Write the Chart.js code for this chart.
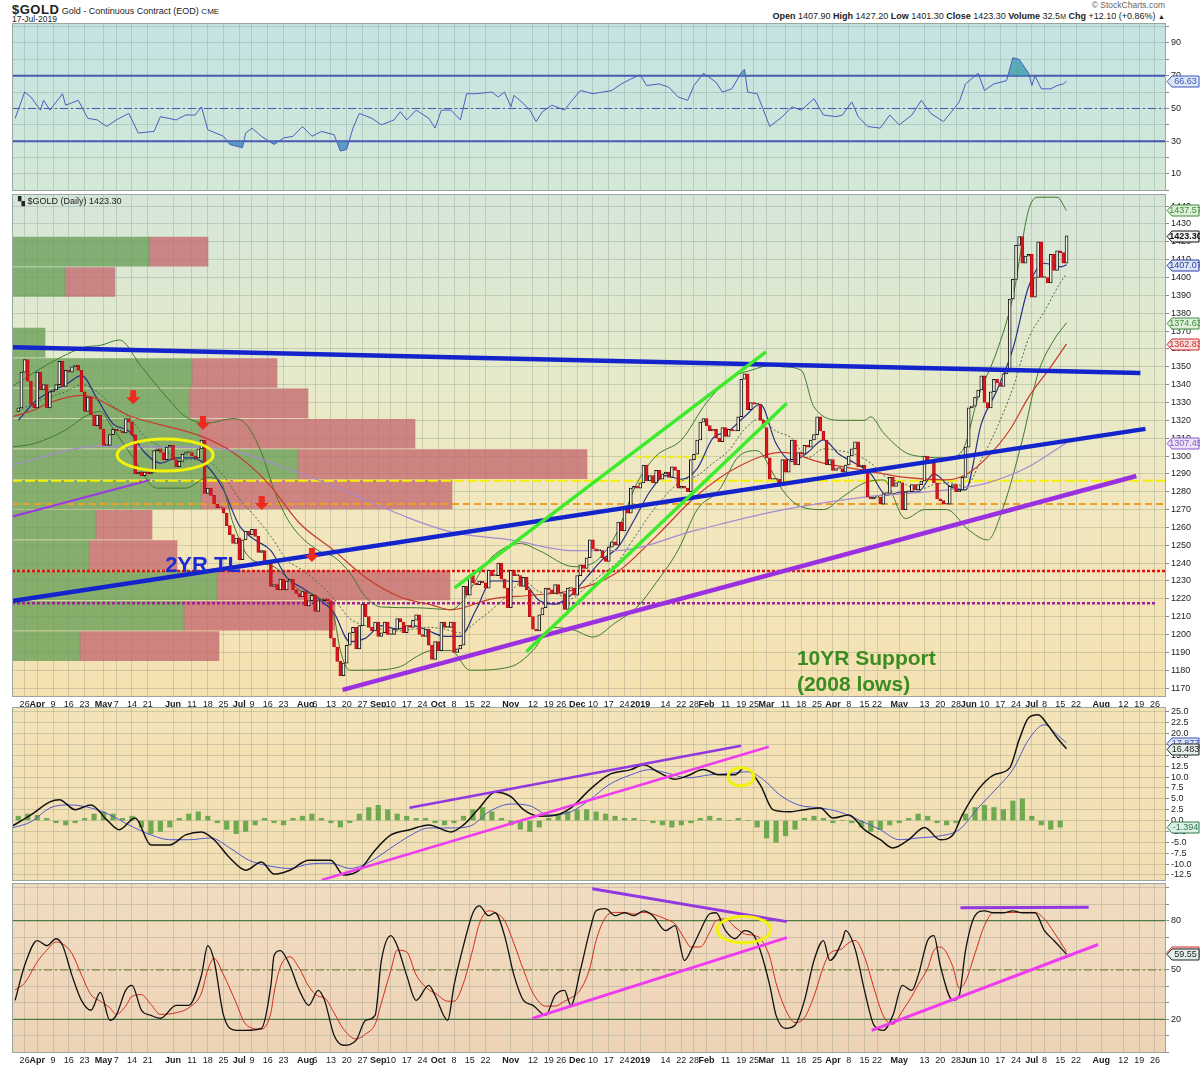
<!DOCTYPE html>
<html>
<head>
<meta charset="utf-8">
<script src="https://cdn.jsdelivr.net/npm/chart.js@4.4.1/dist/chart.umd.min.js"></script>
<style>
  body { margin: 0; width: 1200px; height: 1070px; position: relative; overflow: hidden; background: #fff;
         font-family: "Liberation Sans", Arial, sans-serif; color: #222; }
  canvas { position: absolute; left: 0; }
  .t { position: absolute; white-space: nowrap; }
</style>
</head>
<body>
<div class="t" style="left:12px;top:2px;font-size:9px"><b style="font-size:13px;letter-spacing:.5px">$GOLD</b> Gold - Continuous Contract (EOD) <span style="font-size:8px">CME</span></div>
<div class="t" style="left:12px;top:14px;font-size:8.5px">17-Jul-2019</div>
<div class="t" style="right:35px;top:0px;font-size:8.5px;color:#666">© StockCharts.com</div>
<div class="t" style="right:35px;top:11px;font-size:9px"><b>Open</b> 1407.90 <b>High</b> 1427.20 <b>Low</b> 1401.30 <b>Close</b> 1423.30 <b>Volume</b> 32.5<span style="font-size:7px">M</span> <b>Chg</b> +12.10 (+0.86%) <span style="font-size:7px">▲</span></div>

<canvas id="rsi" width="1200" height="172" style="top:21px"></canvas>
<canvas id="price" width="1200" height="518" style="top:192px"></canvas>
<canvas id="macd" width="1200" height="178" style="top:705px"></canvas>
<canvas id="stoch" width="1200" height="189" style="top:881px"></canvas>
<div class="t" style="left:18px;top:196px;font-size:9px">▚ $GOLD (Daily) 1423.30</div>

<script>
// ---- data ----

const START_DATE = '2018-03-22';
const HOLIDAYS = ['2018-03-30', '2018-05-28', '2018-07-04', '2018-09-03', '2018-11-22', '2018-12-25',
  '2019-01-01', '2019-01-21', '2019-02-18', '2019-04-19', '2019-05-27', '2019-07-04'];

// week ticks on the date axis: [date, label]
const xTicks = [
  ['2018-03-26', '26'], ['2018-04-02', 'Apr'], ['2018-04-09', '9'], ['2018-04-16', '16'], ['2018-04-23', '23'],
  ['2018-05-01', 'May'], ['2018-05-07', '7'], ['2018-05-14', '14'], ['2018-05-21', '21'],
  ['2018-06-01', 'Jun'], ['2018-06-11', '11'], ['2018-06-18', '18'], ['2018-06-25', '25'],
  ['2018-07-02', 'Jul'], ['2018-07-09', '9'], ['2018-07-16', '16'], ['2018-07-23', '23'],
  ['2018-08-01', 'Aug'], ['2018-08-06', '6'], ['2018-08-13', '13'], ['2018-08-20', '20'], ['2018-08-27', '27'],
  ['2018-09-04', 'Sep'], ['2018-09-10', '10'], ['2018-09-17', '17'], ['2018-09-24', '24'],
  ['2018-10-01', 'Oct'], ['2018-10-08', '8'], ['2018-10-15', '15'], ['2018-10-22', '22'],
  ['2018-11-01', 'Nov'], ['2018-11-12', '12'], ['2018-11-19', '19'], ['2018-11-26', '26'],
  ['2018-12-03', 'Dec'], ['2018-12-10', '10'], ['2018-12-17', '17'], ['2018-12-24', '24'],
  ['2019-01-02', '2019'], ['2019-01-14', '14'], ['2019-01-22', '22'], ['2019-01-28', '28'],
  ['2019-02-01', 'Feb'], ['2019-02-11', '11'], ['2019-02-19', '19'], ['2019-02-25', '25'],
  ['2019-03-01', 'Mar'], ['2019-03-11', '11'], ['2019-03-18', '18'], ['2019-03-25', '25'],
  ['2019-04-01', 'Apr'], ['2019-04-08', '8'], ['2019-04-15', '15'], ['2019-04-22', '22'],
  ['2019-05-01', 'May'], ['2019-05-13', '13'], ['2019-05-20', '20'], ['2019-05-28', '28'],
  ['2019-06-03', 'Jun'], ['2019-06-10', '10'], ['2019-06-17', '17'], ['2019-06-24', '24'],
  ['2019-07-01', 'Jul'], ['2019-07-08', '8'], ['2019-07-15', '15'], ['2019-07-22', '22'],
  ['2019-08-01', 'Aug'], ['2019-08-12', '12'], ['2019-08-19', '19'], ['2019-08-26', '26'],
];
const MONTH_LABELS = ['Apr', 'May', 'Jun', 'Jul', 'Aug', 'Sep', 'Oct', 'Nov', 'Dec', '2019', 'Feb', 'Mar'];

// daily closes, 22-Mar-2018 .. 17-Jul-2019
const FIRST_OPEN = 1325;
const closes = [
  1327, 1347, 1354, 1342, 1329, 1327,
  1347, 1337, 1340, 1327, 1336, 1337, 1340, 1353, 1339, 1348, 1347, 1350, 1351, 1348, 1336, 1325, 1333, 1323, 1317, 1323, 1315,
  1306, 1306, 1312, 1315, 1314, 1314, 1313, 1321, 1319, 1312, 1290, 1291, 1289, 1291, 1290, 1291, 1303, 1304, 1302, 1298, 1305, 1306,
  1298, 1294, 1297, 1301, 1302, 1302, 1300, 1299, 1304, 1309, 1279, 1282, 1278, 1273, 1271, 1271, 1268, 1261, 1256, 1251, 1254,
  1242, 1253, 1258, 1256, 1259, 1255, 1246, 1247, 1241, 1240, 1227, 1228, 1225, 1231, 1225, 1230, 1231, 1225, 1223, 1221, 1224,
  1216, 1219, 1222, 1213, 1219, 1219, 1220, 1219, 1198, 1193, 1185, 1177, 1184, 1194, 1201, 1204, 1192, 1205, 1217, 1210, 1204, 1202, 1207,
  1199, 1201, 1207, 1200, 1200, 1203, 1209, 1207, 1201, 1205, 1204, 1208, 1211, 1200, 1199, 1203, 1194, 1186, 1196,
  1191, 1207, 1204, 1204, 1207, 1190, 1192, 1194, 1227, 1222, 1233, 1229, 1228, 1230, 1229, 1226, 1236, 1233, 1233, 1240, 1231, 1226, 1215,
  1236, 1233, 1233, 1227, 1232, 1225, 1210, 1203, 1202, 1211, 1215, 1226, 1225, 1223, 1228, 1223, 1223, 1214, 1226, 1226, 1222,
  1233, 1239, 1237, 1243, 1253, 1248, 1247, 1247, 1243, 1241, 1249, 1252, 1250, 1263, 1258, 1272, 1268, 1282, 1283, 1282,
  1285, 1295, 1286, 1289, 1285, 1292, 1287, 1290, 1291, 1288, 1294, 1292, 1282, 1283, 1282, 1280, 1298, 1301, 1309, 1319, 1321,
  1317, 1314, 1315, 1310, 1308, 1316, 1311, 1315, 1314, 1314, 1322, 1343, 1346, 1326, 1330, 1329, 1329, 1320, 1316,
  1299, 1287, 1287, 1287, 1285, 1298, 1291, 1298, 1309, 1295, 1302, 1301, 1306, 1305, 1309, 1312, 1322, 1314, 1309, 1295, 1298,
  1292, 1293, 1293, 1291, 1295, 1300, 1304, 1308, 1294, 1295, 1291, 1277, 1276, 1277, 1277, 1273, 1279, 1279, 1288, 1283, 1285,
  1285, 1270, 1280, 1280, 1284, 1281, 1284, 1286, 1300, 1296, 1297, 1285, 1276, 1275, 1273, 1273, 1283, 1284, 1280, 1281, 1288, 1305,
  1327, 1328, 1333, 1337, 1345, 1330, 1327, 1336, 1343, 1341, 1339, 1346, 1348, 1388, 1399, 1418, 1423, 1408, 1412, 1413,
  1389, 1400, 1420, 1400, 1400, 1397, 1413, 1404, 1415, 1414, 1408, 1423.3,
];

// overlays: [trading-day index, value]
const bbUpper = [[-2, 1339], [10, 1352], [21, 1361], [26, 1362], [32, 1365], [39, 1350], [47, 1333], [53, 1322], [60, 1318.5],
  [68, 1321], [72, 1318], [77, 1302], [81, 1281], [86, 1262.5], [95, 1247], [100, 1243.5], [105, 1234.5], [110, 1221],
  [115, 1215.4], [126, 1215], [137, 1214], [150, 1243.5], [159, 1251], [165, 1247], [176, 1238], [182, 1240], [189, 1255],
  [196, 1285], [202, 1300], [210, 1309], [218, 1330], [226, 1344], [232, 1348], [239, 1351], [242, 1350], [248, 1348],
  [252, 1327.5], [261, 1320], [268, 1320], [270, 1322], [274, 1313], [281, 1302], [287, 1299.5], [294, 1299], [299, 1303],
  [304, 1333], [310, 1359], [315, 1389], [320, 1438], [323, 1445], [329, 1445], [332, 1437.57]];
const bbLower = [[-2, 1305], [5, 1307], [15, 1314.6], [21, 1322], [26, 1325], [29, 1318], [36, 1300], [44, 1282], [53, 1282],
  [60, 1288], [64, 1286], [68, 1262.5], [73, 1243.5], [81, 1238], [89, 1225], [95, 1221], [100, 1210], [102, 1191], [105, 1180],
  [110, 1180], [121, 1182], [126, 1187.5], [131, 1191], [137, 1191], [143, 1180], [156, 1182], [163, 1191], [169, 1204],
  [176, 1202.5], [182, 1198.6], [189, 1206.5], [196, 1215.4], [202, 1229], [209, 1247.4], [215, 1270], [222, 1281],
  [228, 1299.5], [234, 1303], [239, 1290.5], [242, 1281], [248, 1271.5], [255, 1270], [261, 1277], [268, 1285], [274, 1286.6],
  [281, 1265], [287, 1270], [294, 1270], [301, 1258.6], [307, 1253], [312, 1271.5], [318, 1309], [323, 1346.5], [328, 1365],
  [332, 1374.63]];
const ma10 = [[0, 1320], [5, 1330], [10, 1336], [15, 1340], [20, 1345], [25, 1332], [30, 1318], [35, 1314], [40, 1302], [45, 1296],
  [50, 1299], [55, 1299], [60, 1294], [65, 1281], [70, 1261], [75, 1253], [80, 1247], [85, 1232], [90, 1226], [95, 1220],
  [100, 1212], [105, 1196], [110, 1198], [115, 1205], [120, 1203], [125, 1205], [130, 1202], [135, 1199], [140, 1199],
  [145, 1214], [150, 1230], [155, 1230], [160, 1229], [165, 1219], [170, 1217], [175, 1222], [180, 1232], [185, 1242],
  [190, 1249], [195, 1264], [200, 1280], [205, 1289], [210, 1287], [215, 1293], [220, 1310], [225, 1314], [230, 1322],
  [235, 1329], [240, 1307], [245, 1297], [250, 1302], [255, 1309], [260, 1301], [265, 1296], [270, 1290], [275, 1278],
  [280, 1280], [285, 1280], [290, 1290], [295, 1283], [300, 1281], [305, 1318], [310, 1337], [315, 1360], [320, 1395],
  [325, 1408], [330, 1406], [332, 1407.07]];
const ma20 = [[0, 1325], [5, 1330], [10, 1333], [15, 1336], [20, 1340], [25, 1336], [30, 1328], [35, 1322], [40, 1311], [45, 1305],
  [50, 1299], [55, 1298], [60, 1297], [65, 1289], [70, 1276], [75, 1266], [80, 1255], [85, 1242], [90, 1236], [95, 1229],
  [100, 1220], [105, 1209], [110, 1205], [115, 1203], [120, 1202], [125, 1203], [130, 1204], [135, 1203], [140, 1201],
  [145, 1207], [150, 1214], [155, 1222], [160, 1230], [165, 1224], [170, 1223], [175, 1220], [180, 1227], [185, 1234],
  [190, 1241], [195, 1254], [200, 1267], [205, 1278], [210, 1286], [215, 1289], [220, 1296], [225, 1303], [230, 1315],
  [235, 1321], [240, 1314], [245, 1310], [250, 1299], [255, 1304], [260, 1303], [265, 1301], [270, 1296], [275, 1288],
  [280, 1285], [285, 1281], [290, 1284], [295, 1285], [300, 1283], [305, 1298], [310, 1316], [315, 1338], [320, 1366],
  [325, 1381], [330, 1397], [332, 1402]];
const ma50 = [[-2, 1322], [5, 1325.8], [10, 1330], [20, 1334], [36, 1322], [58, 1311], [68, 1302], [79, 1285], [89, 1262.5],
  [100, 1247], [110, 1232], [121, 1221], [131, 1216.5], [137, 1213.8], [150, 1220], [163, 1222], [176, 1225], [189, 1234],
  [202, 1255], [215, 1278], [228, 1294], [242, 1302], [255, 1296], [268, 1292], [281, 1288], [294, 1286.6], [301, 1290.5],
  [307, 1299.5], [314, 1314.6], [320, 1333], [327, 1350], [332, 1362.83]];
const ma200 = [[-2, 1295], [26, 1305.6], [47, 1305], [62, 1304.5], [89, 1290.5], [137, 1257.5], [156, 1253], [176, 1247],
  [189, 1247], [215, 1258.6], [242, 1269.8], [268, 1277], [294, 1281], [307, 1285], [320, 1294], [332, 1307.45]];

// volume by price: zone mid prices, up / down volume (arbitrary units)
const vbpPrice = [1414.5, 1397.5, 1380.5, 1363.5, 1346.5, 1329.5, 1312.5, 1295.5, 1278.5, 1261.5, 1244.5, 1227.5, 1210.5, 1193.5];
const vbpUp = [137, 53, 0, 33, 180, 177, 188, 286, 189, 84, 77, 205, 172, 68];
const vbpDown = [59, 50, 0, 0, 85, 119, 215, 289, 251, 56, 88, 233, 151, 139];

// horizontal levels on price
const priceLevels = { yellow: 1286.2, orange: 1273.1, red: 1235.6, purple: 1217.5, yellowShort: 1299.5 };

// drawn trend lines: [[day, value], [day, value]]
const tlBlueTop = [[-2, 1361.0], [355.4, 1346.5]];
const tlBlueLow = [[-2, 1218.7], [357, 1315.2]];
const tlPurple = [[102.7, 1169], [354.1, 1288.8]];
const tlPurpleLeft = [[-2, 1266], [41.7, 1286.6]];
const tlGreenUp = [[138.2, 1226.1], [236.8, 1358.3]];
const tlGreenLow = [[160.9, 1190.4], [243.4, 1329.6]];

// RSI(14)
const rsi = [[-1, 44], [2, 60], [4, 57], [7, 49], [8, 55], [10, 49], [14, 59], [15, 52], [19, 55], [22, 44], [25, 43], [28, 39],
  [31, 43], [35, 47], [38, 35], [43, 36], [45, 45], [50, 43], [53, 46], [56, 46], [58, 51], [60, 37], [65, 33], [67, 28],
  [71, 26], [72, 35], [74, 38], [77, 33], [81, 28], [84, 32], [87, 33], [90, 39], [93, 33], [96, 36], [100, 34], [102, 24],
  [104, 25], [106, 38], [108, 47], [112, 44], [115, 40], [119, 43], [121, 48], [123, 43], [126, 49], [130, 44], [132, 38],
  [134, 49], [137, 49], [140, 43], [142, 59], [145, 59], [150, 60], [152, 57], [154, 60], [156, 51], [157, 58], [160, 53],
  [162, 49], [164, 42], [166, 48], [169, 52], [173, 49], [175, 54], [178, 61], [182, 59], [185, 60], [188, 61], [191, 65],
  [194, 68], [197, 70.5], [199, 64], [203, 65], [206, 63], [209, 57], [212, 55], [214, 64], [217, 71.5], [221, 66],
  [223, 60], [226, 62], [229, 72], [230, 74], [231, 60], [234, 59], [236, 49], [238, 39], [242, 45], [245, 51], [248, 49],
  [252, 56], [255, 46], [259, 45], [261, 46], [264, 54], [266, 45], [269, 39], [273, 38], [276, 46], [279, 40], [283, 46],
  [286, 55], [289, 47], [293, 42], [296, 49], [298, 54], [300, 65], [304, 71.5], [306, 61], [309, 65], [313, 67], [315, 81],
  [317, 80], [320, 71.5], [321, 64], [322, 70], [324, 62], [327, 62], [329, 64], [331, 65], [332, 66.63]];
const rsiLevels = [70, 50, 30];

// MACD(12,26,9)
const macdLine = [[-2, -1.3], [4, 1.3], [10, 4.3], [13, 4.8], [18, 2.5], [23, 3.6], [28, 0.2], [32, -2.1], [37, 0.6],
  [42, -5.6], [48, -5.6], [53, -3.3], [58, -2.6], [62, -4.4], [67, -8.6], [72, -11.4], [77, -9.5], [81, -12.3], [86, -11.4],
  [92, -9.1], [99, -9.1], [103, -12.5], [108, -11.4], [113, -6.8], [118, -3.3], [124, -2.1], [130, -1.0], [137, -2.6],
  [141, -1.0], [146, 2.9], [151, 6.5], [156, 5.5], [160, 2.5], [165, 1.0], [170, 1.2], [175, 2.9], [181, 7.1], [187, 10.5],
  [194, 11.7], [198, 12.8], [203, 11.0], [208, 9.5], [212, 10.3], [217, 11.7], [222, 10.5], [227, 10.5], [230, 12.1],
  [235, 8.2], [239, 2.5], [244, 2.0], [249, 2.5], [254, 2.9], [258, 0.6], [263, 1.3], [268, -2.1], [273, -4.4], [277, -6.3],
  [282, -4.4], [287, -1.6], [292, -4.4], [296, -3.3], [299, 1.3], [304, 7.1], [309, 10.5], [314, 12.1], [317, 18.6],
  [320, 23.6], [323, 24.3], [326, 22.0], [329, 19.0], [332, 16.48]];
const macdSignal = [[-2, -1.7], [4, -0.3], [10, 2.9], [16, 3.6], [23, 2.9], [29, 1.3], [35, -1.0], [42, -3.3], [48, -4.4],
  [54, -4.4], [61, -4.0], [67, -6.3], [73, -9.1], [80, -10.5], [86, -11.0], [92, -10.0], [99, -9.8], [105, -11.0],
  [111, -9.6], [118, -6.3], [124, -3.5], [130, -1.7], [137, -1.7], [143, -1.3], [149, 2.0], [156, 3.8], [162, 3.4],
  [168, 1.3], [175, 2.0], [181, 4.8], [187, 8.2], [194, 10.5], [200, 11.7], [206, 10.8], [212, 9.8], [219, 10.5],
  [225, 10.8], [231, 11.2], [236, 9.4], [241, 6.0], [247, 3.6], [254, 2.9], [260, 2.0], [266, 0.2], [273, -2.1],
  [279, -4.4], [285, -4.0], [292, -3.5], [298, -2.1], [304, 2.9], [310, 7.5], [315, 11.7], [320, 18.6], [325, 22.0],
  [329, 19.7], [332, 17.88]];
const HIST_STEP = 3; // histogram sampled every 3rd trading day
const macdHist = [1.0, 1.5, 1.2, 0.5, -0.5, -1.0, -0.5, 0.5, 1.5, 2.0, 1.5, 0.5, 1.0, -1.5, -3.0, -2.5, -1.5, 0.5, 1.5, 2.0,
  1.0, -0.5, -2.0, -3.0, -2.5, -1.0, 0.5, -0.5, -1.0, 0.5, 1.0, 1.5, 0.5, -0.5, -1.5, -0.5, 1.5, 3.0, 3.5, 2.5, 1.5, 1.0,
  0.5, 0.5, -0.5, -1.0, -0.5, 1.0, 2.5, 3.0, 2.0, 0.5, -1.0, -2.0, -2.5, -1.5, 0.5, 1.5, 2.0, 2.5, 2.5, 2.0, 1.5, 1.0, 0.5,
  0.5, 0.0, -0.5, -1.0, -1.5, -1.0, -0.5, 0.5, 1.0, 0.5, 0.0, 0.5, 0.0, -1.5, -4.0, -5.0, -3.5, -2.0, 0.5, 1.0, 0.5, -0.5,
  0.0, -0.5, -1.5, -2.5, -2.0, -1.0, -0.5, 0.5, 1.5, 1.0, -0.5, -1.0, -0.5, 1.5, 3.0, 3.5, 3.0, 2.5, 4.5, 5.0, 1.0, -1.0,
  -2.0, -1.5];
const tlMacdPurple = [[123.9, 2.92], [228.9, 17.18]];
const tlMacdMagenta = [[96.1, -13.65], [237.7, 16.95]];

// Slow stochastic %K / %D
const stochK = [[-1, 31.5], [2, 52.7], [6, 67.9], [9, 64.8], [12, 69], [14, 65], [17, 46.7], [20, 31.5], [23, 25.5], [26, 36.4],
  [29, 19.4], [31, 22.4], [34, 37.6], [36, 40.6], [39, 25.5], [42, 22.4], [45, 20.6], [50, 28.5], [54, 28.5], [58, 46.7],
  [60, 64.8], [62, 55.8], [65, 22.4], [69, 13.3], [72, 13.3], [77, 14.5], [80, 40.6], [81, 58.8], [83, 61.8], [86, 52.7],
  [89, 37.6], [92, 28.5], [95, 37.6], [97, 31.5], [100, 10.3], [103, 4.2], [107, 7.3], [110, 19.4], [113, 22.4], [115, 55.8],
  [118, 70.9], [120, 64.8], [123, 46.7], [126, 31.5], [130, 40.6], [132, 34.5], [136, 19.4], [138, 40.6], [141, 64.8],
  [144, 84.8], [146, 89], [149, 83], [151, 84.8], [154, 70.9], [157, 46.7], [160, 31.5], [163, 28.5], [167, 22.4],
  [170, 34.5], [173, 37.6], [175, 28.5], [178, 49.7], [181, 73.9], [183, 86], [186, 87.3], [189, 83], [192, 84.8],
  [195, 83], [198, 86], [201, 83], [205, 73.9], [208, 77], [211, 55.8], [213, 61.8], [216, 73.9], [219, 84.2], [221, 84.8],
  [224, 73.9], [227, 69], [230, 73.9], [233, 70.9], [235, 61.8], [238, 40.6], [240, 22.4], [243, 14.5], [246, 16.4],
  [249, 31.5], [252, 55.8], [255, 67.9], [257, 55.8], [261, 67.9], [262, 73.9], [265, 63], [268, 37.6], [271, 16.4],
  [274, 13.3], [277, 22.4], [280, 40.6], [283, 37.6], [285, 46.7], [288, 67.9], [290, 70.9], [292, 52.7], [296, 31.5],
  [298, 34.5], [300, 61.8], [303, 83], [306, 86], [309, 84.8], [312, 84.8], [315, 86], [318, 84.8], [322, 84.8],
  [325, 73.9], [328, 67.9], [332, 59.55]];
const stochD = [[-1, 38], [2, 42], [6, 55], [9, 62], [12, 67], [14, 66], [17, 60], [20, 47], [23, 35], [26, 31], [29, 27],
  [31, 23], [34, 28], [36, 34], [39, 35], [42, 29], [45, 23], [50, 24], [54, 27], [58, 36], [60, 50], [62, 57], [65, 47],
  [69, 30], [72, 17], [77, 14], [80, 24], [81, 36], [83, 52], [86, 58], [89, 51], [92, 40], [95, 34], [97, 33], [100, 24],
  [103, 14], [107, 8], [110, 11], [113, 17], [115, 30], [118, 50], [120, 62], [123, 61], [126, 47], [130, 38], [132, 36],
  [136, 31], [138, 31], [141, 42], [144, 63], [146, 78], [149, 86], [151, 85], [154, 80], [157, 66], [160, 50], [163, 36],
  [167, 28], [170, 28], [173, 31], [175, 33], [178, 38], [181, 51], [183, 68], [186, 82], [189, 85], [192, 85], [195, 84],
  [198, 85], [201, 84], [205, 81], [208, 78], [211, 69], [213, 64], [216, 64], [219, 73], [221, 80], [224, 81], [227, 76],
  [230, 72], [233, 71], [235, 69], [238, 58], [240, 42], [243, 26], [246, 18], [249, 21], [252, 34], [255, 52], [257, 60],
  [261, 63], [262, 65], [265, 68], [268, 58], [271, 39], [274, 22], [277, 17], [280, 25], [283, 34], [285, 41], [288, 51],
  [290, 62], [292, 64], [296, 52], [298, 39], [300, 43], [303, 60], [306, 77], [309, 85], [312, 85], [315, 85], [318, 85],
  [322, 85], [325, 81], [328, 73], [332, 61.04]];
const stochLevels = [80, 50, 20];
const tlStPurpleL = [[181.8, 99.4], [243.4, 79.4]];
const tlStMagentaL = [[162.8, 20.6], [243.4, 69.7]];
const tlStPurpleR = [[298.4, 87.9], [339, 88.2]];
const tlStMagentaR = [[270.3, 13.3], [342, 65.5]];

// ---- helpers ----
const FONT = '"Liberation Sans", Arial, sans-serif';
const X_MIN = -2, X_MAX = 363.5;
const GRID = 'rgba(100,125,115,0.25)';
Chart.defaults.font.family = FONT;

function buildCalendar(start, n) {
  const out = [];
  const d = new Date(start + 'T00:00:00Z');
  while (out.length < n) {
    const wd = d.getUTCDay();
    const s = d.toISOString().slice(0, 10);
    if (wd !== 0 && wd !== 6 && !HOLIDAYS.includes(s)) out.push(s);
    d.setUTCDate(d.getUTCDate() + 1);
  }
  return out;
}
const days = buildCalendar(START_DATE, 370);
const tickIdx = [], tickText = {};
xTicks.forEach(([d, t]) => { const i = days.indexOf(d); tickIdx.push(i); tickText[i] = t; });

const pts = arr => arr.map(([x, y]) => ({ x, y }));
const hline = (v, x0 = X_MIN, x1 = X_MAX) => [{ x: x0, y: v }, { x: x1, y: v }];
function line(data, color, width, extra) {
  return Object.assign({ type: 'line', data, borderColor: color, borderWidth: width, pointRadius: 0,
    fill: false, tension: 0, order: 5 }, extra || {});
}

function xScale(labelHeight) {
  return {
    type: 'linear', min: X_MIN, max: X_MAX, offset: false,
    afterBuildTicks: s => { s.ticks = tickIdx.map(v => ({ value: v })); },
    afterFit: s => { s.height = labelHeight; s.paddingLeft = 0; s.paddingRight = 0; },
    grid: { color: GRID, drawTicks: false, offset: false },
    border: { display: false },
    ticks: {
      display: labelHeight > 0, autoSkip: false, maxRotation: 0, minRotation: 0, padding: 2, color: '#1a1a1a',
      font: ctx => ({ family: FONT, size: 9, weight: MONTH_LABELS.includes(tickText[ctx.tick && ctx.tick.value]) ? 'bold' : 'normal' }),
      callback: v => tickText[v] ?? '',
    },
  };
}
function yScale(min, max, ticks, fmt) {
  return {
    position: 'right', min, max, offset: false,
    afterBuildTicks: s => { s.ticks = ticks.map(v => ({ value: v })); },
    afterFit: s => { s.width = 34; s.paddingTop = 0; s.paddingBottom = 0; },
    grid: { color: GRID, tickLength: 3, tickColor: '#8a8a8a', offset: false },
    border: { display: false },
    ticks: { color: '#222', font: { family: FONT, size: 9 }, padding: 2, autoSkip: false, callback: fmt },
  };
}
const range = (a, b, step) => { const r = []; for (let v = a; v <= b + 1e-9; v += step) r.push(+v.toFixed(2)); return r; };

// background, border, notes and value tags for one panel
function panelPlugin(stops, tags, notes) {
  return {
    id: 'panel',
    beforeDraw(chart) {
      const { ctx, chartArea: a } = chart;
      const g = ctx.createLinearGradient(0, a.top, 0, a.bottom);
      stops.forEach(([p, c]) => g.addColorStop(p, c));
      ctx.save();
      ctx.fillStyle = g;
      ctx.fillRect(a.left, a.top, a.right - a.left, a.bottom - a.top);
      ctx.restore();
    },
    afterDatasetsDraw(chart) {
      if (!notes) return;
      const { ctx, chartArea: a, scales: { x, y } } = chart;
      ctx.save();
      ctx.beginPath(); ctx.rect(a.left, a.top, a.right - a.left, a.bottom - a.top); ctx.clip();
      (notes.ellipses || []).forEach(e => {
        const cx = x.getPixelForValue(e.x), cy = y.getPixelForValue(e.y);
        const rx = Math.abs(x.getPixelForValue(e.x + e.rx) - cx), ry = Math.abs(y.getPixelForValue(e.y + e.ry) - cy);
        ctx.beginPath(); ctx.ellipse(cx, cy, rx, ry, 0, 0, Math.PI * 2);
        ctx.strokeStyle = '#f2f20a'; ctx.lineWidth = 3; ctx.stroke();
      });
      (notes.arrows || []).forEach(p => {
        const tx = x.getPixelForValue(p.x), ty = y.getPixelForValue(p.y);
        ctx.beginPath();
        ctx.moveTo(tx, ty); ctx.lineTo(tx - 7, ty - 7); ctx.lineTo(tx - 3, ty - 7); ctx.lineTo(tx - 3, ty - 14);
        ctx.lineTo(tx + 3, ty - 14); ctx.lineTo(tx + 3, ty - 7); ctx.lineTo(tx + 7, ty - 7); ctx.closePath();
        ctx.fillStyle = '#ee2a1e'; ctx.fill();
      });
      (notes.texts || []).forEach(t => {
        ctx.font = t.font; ctx.fillStyle = t.color; ctx.textAlign = 'left'; ctx.textBaseline = 'alphabetic';
        ctx.fillText(t.text, x.getPixelForValue(t.x), y.getPixelForValue(t.y));
      });
      ctx.restore();
    },
    afterDraw(chart) {
      const { ctx, chartArea: a, scales: { y } } = chart;
      ctx.save();
      ctx.strokeStyle = '#9aa6a0'; ctx.lineWidth = 1;
      ctx.strokeRect(a.left + 0.5, a.top + 0.5, a.right - a.left - 1, a.bottom - a.top - 1);
      (tags || []).forEach(t => {
        const py = Math.round(y.getPixelForValue(t.v)) + 0.5, x0 = a.right + 1, x1 = 1199, h = 11;
        ctx.beginPath();
        ctx.moveTo(x0, py); ctx.lineTo(x0 + 5, py - h / 2); ctx.lineTo(x1, py - h / 2);
        ctx.lineTo(x1, py + h / 2); ctx.lineTo(x0 + 5, py + h / 2); ctx.closePath();
        ctx.fillStyle = t.fill; ctx.fill();
        ctx.strokeStyle = t.color; ctx.lineWidth = 1; ctx.stroke();
        ctx.fillStyle = t.ink || t.color;
        ctx.font = (t.bold ? 'bold ' : '') + '9px ' + FONT;
        ctx.textAlign = 'center'; ctx.textBaseline = 'middle';
        ctx.fillText(t.text, (x0 + 5 + x1) / 2, py + 0.5);
      });
      ctx.restore();
    },
  };
}

function makeChart(id, datasets, scales, padding, plugin) {
  return new Chart(document.getElementById(id), {
    type: 'line',
    data: { datasets },
    options: {
      responsive: false, animation: false, devicePixelRatio: 1, events: [],
      layout: { padding: Object.assign({ left: 12, right: 0 }, padding) },
      plugins: { legend: { display: false }, tooltip: { enabled: false } },
      scales,
    },
    plugins: [plugin],
  });
}

// ---- RSI panel ----
makeChart('rsi', [
  line(pts(rsi), '#4a5ec0', 1, { order: 1, fill: { target: { value: 70 }, above: 'rgba(70,160,175,0.85)', below: 'rgba(0,0,0,0)' } }),
  line(pts(rsi), 'rgba(0,0,0,0)', 0, { order: 2, fill: { target: { value: 30 }, above: 'rgba(0,0,0,0)', below: 'rgba(70,140,190,0.85)' } }),
  line(hline(rsiLevels[0]), '#4656b2', 2, { order: 3 }),
  line(hline(rsiLevels[1]), '#4656b2', 1, { order: 3, borderDash: [8, 3, 2, 3] }),
  line(hline(rsiLevels[2]), '#4656b2', 2, { order: 3 }),
], {
  x: xScale(0),
  y: yScale(-0.4, 102.2, range(0, 100, 10), v => [10, 30, 50, 70, 90].includes(v) ? String(v) : ''),
}, { top: 2, bottom: 2 },
panelPlugin([[0, '#c3e3e3'], [1, '#d4e8d6']],
  [{ v: 66.63, text: '66.63', color: '#3b55c0', fill: '#dce7f3' }]));

// ---- price panel ----
const candles = closes.map((c, i) => ({ x: i, y: [i ? closes[i - 1] : FIRST_OPEN, c] }));
const isUp = candles.map(d => d.y[1] >= d.y[0]);
const vbpGreen = [], vbpRed = [];
vbpPrice.forEach((p, i) => {
  if (vbpUp[i]) vbpGreen.push({ x: [0, vbpUp[i]], y: p });
  if (vbpDown[i]) vbpRed.push({ x: [vbpUp[i], vbpUp[i] + vbpDown[i]], y: p });
});
const vbpBar = color => ({ type: 'bar', indexAxis: 'y', xAxisID: 'xv', yAxisID: 'y', grouped: false,
  barThickness: 29, backgroundColor: color, borderWidth: 0, order: 100 });

makeChart('price', [
  Object.assign(vbpBar('rgba(104,158,86,0.78)'), { data: vbpGreen }),
  Object.assign(vbpBar('rgba(196,104,110,0.78)'), { data: vbpRed }),
  line(hline(priceLevels.yellow), '#f4f000', 2, { order: 50, borderDash: [10, 3] }),
  line(hline(priceLevels.orange), '#f0a020', 2, { order: 50, borderDash: [7, 4] }),
  line(hline(priceLevels.red), '#e01010', 2.5, { order: 50, borderDash: [3, 2] }),
  line(hline(priceLevels.purple, X_MIN, 360), '#a0209a', 2.5, { order: 50, borderDash: [3, 2] }),
  line(hline(priceLevels.yellowShort, 196, 218), '#f4f000', 2.5, { order: 50, borderDash: [5, 3] }),
  line(pts(ma200), '#a88ad0', 1.2, { order: 20, cubicInterpolationMode: 'monotone' }),
  line(pts(ma50), '#c83a2a', 1.2, { order: 20, cubicInterpolationMode: 'monotone' }),
  line(pts(bbUpper), '#3e7a2e', 1, { order: 20, cubicInterpolationMode: 'monotone' }),
  line(pts(bbLower), '#3e7a2e', 1, { order: 20, cubicInterpolationMode: 'monotone' }),
  line(pts(ma20), '#4a6a4a', 1, { order: 20, borderDash: [2, 2], cubicInterpolationMode: 'monotone' }),
  line(pts(ma10), '#27308a', 1.2, { order: 20, cubicInterpolationMode: 'monotone' }),
  { type: 'bar', data: candles, grouped: false, barThickness: 3, order: 10, borderSkipped: false, minBarLength: 1,
    backgroundColor: isUp.map(u => u ? '#efeee0' : '#d8161c'),
    borderColor: isUp.map(u => u ? '#161616' : '#c01016'), borderWidth: 1 },
  line(pts(tlPurpleLeft), '#9a3de0', 2.2, { order: 4 }),
  line(pts(tlBlueTop), '#1424cc', 4.5, { order: 3 }),
  line(pts(tlBlueLow), '#1424cc', 4.5, { order: 3 }),
  line(pts(tlPurple), '#9a30e0', 4.5, { order: 3 }),
  line(pts(tlGreenUp), '#3cec2c', 3.5, { order: 2 }),
  line(pts(tlGreenLow), '#3cec2c', 3.5, { order: 2 }),
], {
  x: xScale(13),
  xv: { type: 'linear', axis: 'x', display: false, min: 0, max: 1154 },
  y: yScale(1165, 1446.8, range(1170, 1440, 10), v => String(v)),
}, { top: 2, bottom: 0 },
panelPlugin([[0, '#d5e6d9'], [0.35, '#e5eacb'], [0.6, '#f1e7bf'], [1, '#f5e1b0']], [
  { v: 1437.57, text: '1437.57', color: '#3d8a3a', fill: '#dff0da' },
  { v: 1423.30, text: '1423.30', color: '#111', fill: '#f4f4f4', bold: true },
  { v: 1407.07, text: '1407.07', color: '#2a3aa8', fill: '#dde6f4' },
  { v: 1374.63, text: '1374.63', color: '#3d8a3a', fill: '#dff0da' },
  { v: 1362.83, text: '1362.83', color: '#d02a2a', fill: '#f6dede' },
  { v: 1307.45, text: '1307.45', color: '#8a5ac8', fill: '#ece2f6' },
], {
  ellipses: [{ x: 46.5, y: 1300.6, rx: 15.2, ry: 9 }],
  arrows: [{ x: 36.4, y: 1329 }, { x: 58.5, y: 1314.6 }, { x: 77.1, y: 1269.8 }, { x: 93, y: 1240.6 }],
  texts: [
    { x: 46.5, y: 1235.0, text: '2YR TL', color: '#1d2bd6', font: 'bold 22px ' + FONT },
    { x: 246.6, y: 1183, text: '10YR Support', color: '#3a8c20', font: 'bold 21px ' + FONT },
    { x: 246.6, y: 1168.4, text: '(2008 lows)', color: '#3a8c20', font: 'bold 21px ' + FONT },
  ],
}));

// ---- MACD panel ----
makeChart('macd', [
  { type: 'bar', data: macdHist.map((v, k) => ({ x: k * HIST_STEP, y: v })), grouped: false, barThickness: 4.5,
    backgroundColor: 'rgba(88,160,60,0.85)', borderWidth: 0, order: 30 },
  line(pts(macdSignal), '#5058d0', 1, { order: 6, cubicInterpolationMode: 'monotone' }),
  line(pts(macdLine), '#111', 1.5, { order: 5, cubicInterpolationMode: 'monotone' }),
  line(pts(tlMacdPurple), '#9238e0', 2.5, { order: 2 }),
  line(pts(tlMacdMagenta), '#f03cf0', 2.5, { order: 2 }),
], {
  x: xScale(0),
  y: yScale(-13.88, 26.08, range(-12.5, 25, 2.5), v => v.toFixed(1)),
}, { top: 2, bottom: 2 },
panelPlugin([[0, '#f4e3b6'], [1, '#f2deb3']], [
  { v: 17.877, text: '17.877', color: '#3b4ec0', fill: '#dfe6f4' },
  { v: 16.483, text: '16.483', color: '#222', fill: '#e6f0ea' },
  { v: -1.394, text: '-1.394', color: '#2f7a50', fill: '#dcefe4' },
], { ellipses: [{ x: 228.9, y: 10.05, rx: 4.1, ry: 2.1 }] }));

// ---- stochastics panel ----
makeChart('stoch', [
  line(hline(stochLevels[0]), '#4f7a40', 1.2, { order: 8 }),
  line(hline(stochLevels[1]), '#7a8a40', 1.2, { order: 8, borderDash: [8, 3, 2, 3] }),
  line(hline(stochLevels[2]), '#4f7a40', 1.2, { order: 8 }),
  line(pts(stochD), '#d42a1e', 1, { order: 6, cubicInterpolationMode: 'monotone' }),
  line(pts(stochK), '#111', 1.3, { order: 5, cubicInterpolationMode: 'monotone' }),
  line(pts(tlStPurpleL), '#9238e0', 3, { order: 2 }),
  line(pts(tlStMagentaL), '#f03cf0', 3, { order: 2 }),
  line(pts(tlStPurpleR), '#9238e0', 3, { order: 2 }),
  line(pts(tlStMagentaR), '#f03cf0', 3, { order: 2 }),
], {
  x: xScale(15),
  y: yScale(-0.5, 102.9, range(0, 100, 10), v => [20, 50, 80].includes(v) ? String(v) : ''),
}, { top: 2, bottom: 2 },
panelPlugin([[0, '#f1dcc1'], [1, '#eed3b6']], [
  { v: 61.04, text: '61.04', color: '#d02a2a', fill: '#f6dede' },
  { v: 59.55, text: '59.55', color: '#222', fill: '#e4efe9' },
], { ellipses: [{ x: 229.8, y: 74.5, rx: 8.5, ry: 8 }] }));
</script>
</body>
</html>
